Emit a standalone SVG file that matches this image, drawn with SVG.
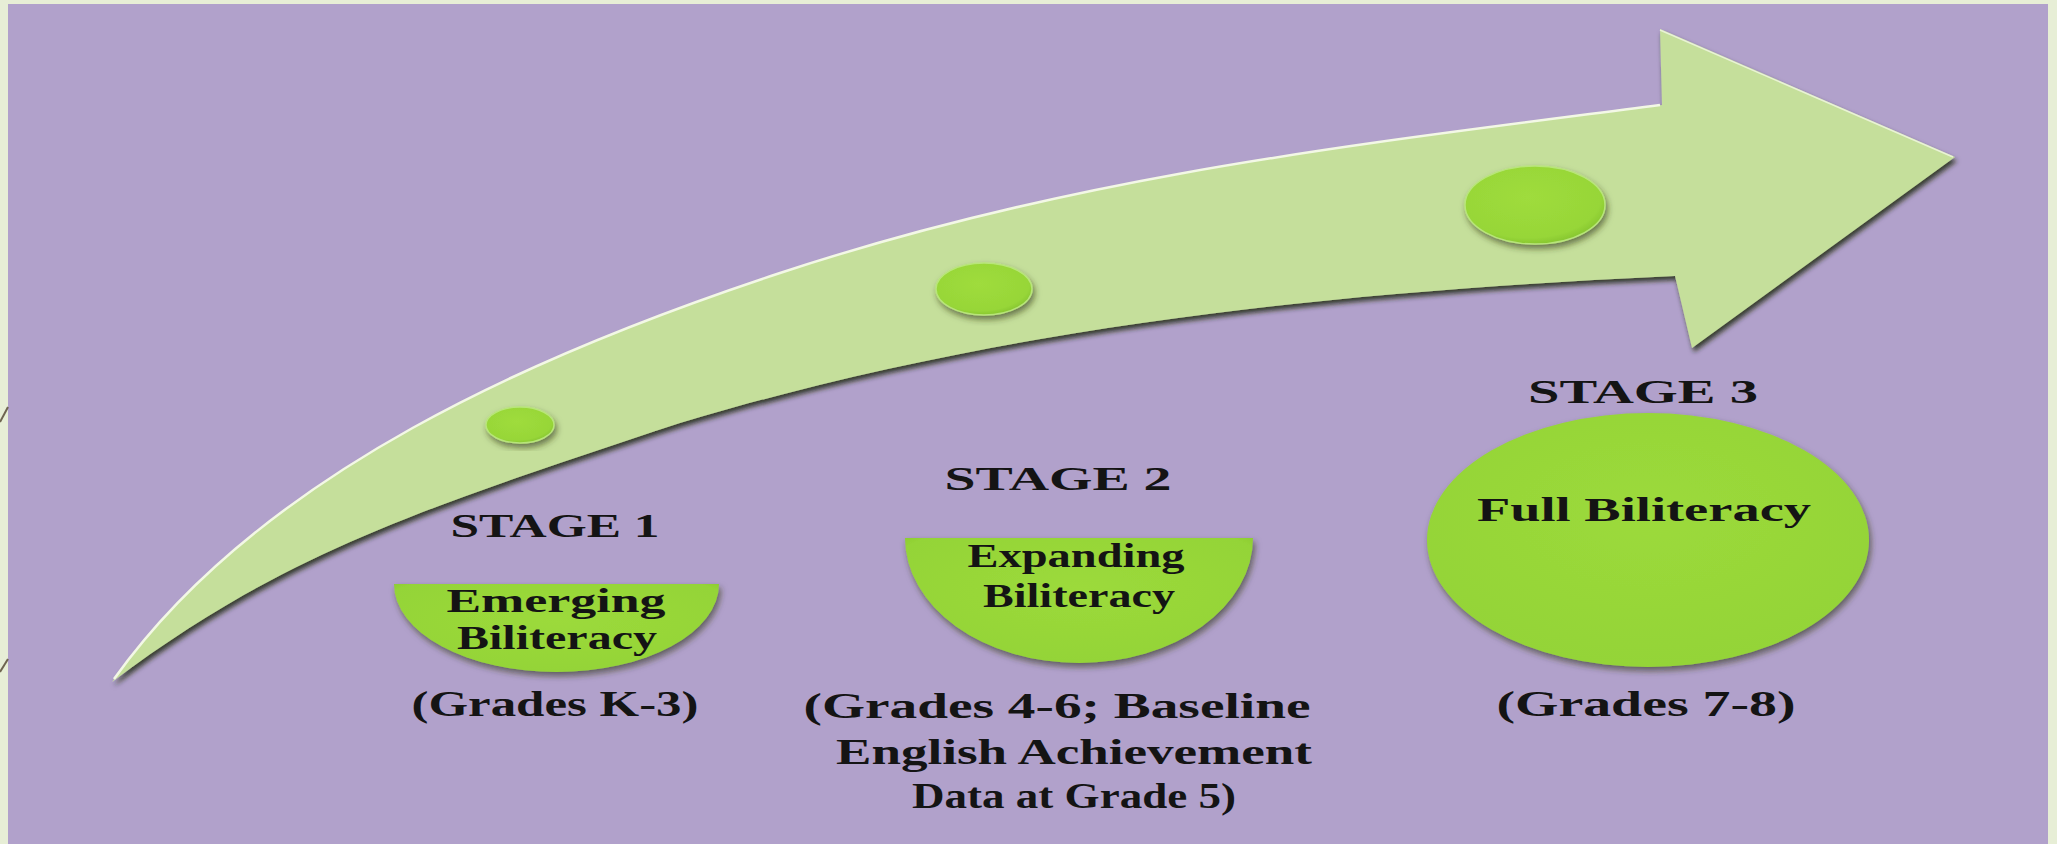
<svg xmlns="http://www.w3.org/2000/svg" width="2057" height="844" viewBox="0 0 2057 844">
<defs>
<style>
.t{font-family:"Liberation Serif","Times New Roman",serif;font-weight:bold;fill:#141414;text-anchor:middle}
.st{font-size:34px}
.lb{font-size:34px}
.gr{font-size:36px}
.dot{fill:url(#dotg);stroke:#b8e57a;stroke-width:1.5;filter:url(#sh2)}
.bowl{fill:url(#bowlg);filter:url(#sh2)}
</style>
<radialGradient id="dotg" cx="0.45" cy="0.4" r="0.65">
<stop offset="0" stop-color="#9fdc3c"/>
<stop offset="0.8" stop-color="#97d638"/>
<stop offset="1" stop-color="#7fbf2c"/>
</radialGradient>
<radialGradient id="bowlg" cx="0.5" cy="0.4" r="0.7">
<stop offset="0" stop-color="#9cda3b"/>
<stop offset="0.85" stop-color="#94d437"/>
<stop offset="1" stop-color="#84c22e"/>
</radialGradient>
<filter id="sh1" x="-5%" y="-5%" width="112%" height="115%">
<feDropShadow dx="2" dy="4" stdDeviation="2.5" flood-color="#1e2a0e" flood-opacity="0.85"/>
</filter>
<filter id="sh2" x="-10%" y="-10%" width="125%" height="130%">
<feDropShadow dx="2" dy="4" stdDeviation="3" flood-color="#2a3318" flood-opacity="0.6"/>
</filter>
</defs>
<rect x="0" y="0" width="2057" height="844" fill="#e7eed6"/>
<rect x="8" y="4" width="2040" height="840" fill="#b1a1cb"/>
<g id="edge-marks" stroke="#6e6450" stroke-width="2" fill="none">
<line x1="0" y1="422" x2="8" y2="407"/>
<line x1="0" y1="672" x2="8" y2="659"/>
</g>
<g id="arrow">
<path d="M112,682 C262,472 540,352 780,273 C1080,174 1362,144 1662,105 L1660,29 L1955,157 L1692,348 L1675,276 C1345,291 1010,324 680,423 C420,509 282,554 112,682 Z" fill="#c5df9b" filter="url(#sh1)"/>
<path d="M114,679 C262,472 540,352 780,273 C1080,174 1362,144 1660,105" fill="none" stroke="#f3f8e6" stroke-width="2.5"/>
<path d="M1660,30 L1953,157" fill="none" stroke="#e9f2d6" stroke-width="1.5"/>
</g>
<g id="connectors"/>
<g id="dot1"><ellipse class="dot" cx="520" cy="425" rx="34" ry="18"/></g>
<g id="dot2"><ellipse class="dot" cx="984" cy="289" rx="48" ry="26"/></g>
<g id="dot3"><ellipse class="dot" cx="1535" cy="205" rx="70" ry="39"/></g>
<g id="stage1">
<text class="t st" x="555" y="537" textLength="209" lengthAdjust="spacingAndGlyphs">STAGE 1</text>
<path class="bowl" d="M394,584 L719,584 A162.5,88 0 0 1 394,584 Z"/>
<text class="t lb" x="556" y="612" textLength="219" lengthAdjust="spacingAndGlyphs">Emerging</text>
<text class="t lb" x="557" y="649" textLength="200" lengthAdjust="spacingAndGlyphs">Biliteracy</text>
<text class="t gr" x="555" y="716" textLength="287" lengthAdjust="spacingAndGlyphs">(Grades K-3)</text>
</g>
<g id="stage2">
<text class="t st" x="1058" y="490" textLength="227" lengthAdjust="spacingAndGlyphs">STAGE 2</text>
<path class="bowl" d="M905,538 L1253,538 A174,125 0 0 1 905,538 Z"/>
<text class="t lb" x="1076" y="567" textLength="217" lengthAdjust="spacingAndGlyphs">Expanding</text>
<text class="t lb" x="1079" y="607" textLength="192" lengthAdjust="spacingAndGlyphs">Biliteracy</text>
<text class="t gr" x="1057" y="718" textLength="507" lengthAdjust="spacingAndGlyphs">(Grades 4-6; Baseline</text>
<text class="t gr" x="1074" y="764" textLength="476" lengthAdjust="spacingAndGlyphs">English Achievement</text>
<text class="t gr" x="1074" y="808" textLength="324" lengthAdjust="spacingAndGlyphs">Data at Grade 5)</text>
</g>
<g id="stage3">
<text class="t st" x="1643" y="403" textLength="230" lengthAdjust="spacingAndGlyphs">STAGE 3</text>
<ellipse class="bowl" cx="1648" cy="540" rx="221" ry="127"/>
<text class="t lb" x="1644" y="521" textLength="334" lengthAdjust="spacingAndGlyphs">Full Biliteracy</text>
<text class="t gr" x="1646" y="716" textLength="299" lengthAdjust="spacingAndGlyphs">(Grades 7-8)</text>
</g>
</svg>
